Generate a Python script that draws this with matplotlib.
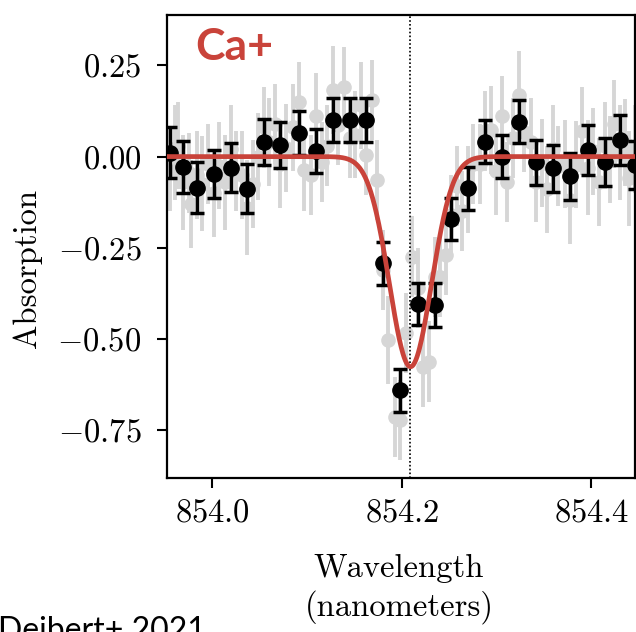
import numpy as np
import matplotlib
matplotlib.use("Agg")
import matplotlib.pyplot as plt

plt.rcParams["mathtext.fontset"] = "cm"
plt.rcParams["font.family"] = "serif"
plt.rcParams["font.serif"] = ["cmr10"]
plt.rcParams["axes.unicode_minus"] = True

# Binned Ca+ transmission residuals (nm, absorption, 1-sigma)
binned_wl = [853.9548, 853.9689, 853.9836, 854.0013, 854.0192, 854.0368, 854.0540,
             854.0717, 854.0910, 854.1097, 854.1272, 854.1448, 854.1624, 854.1799,
             854.1983, 854.2169, 854.2345, 854.2521, 854.2697, 854.2880, 854.3055,
             854.3232, 854.3418, 854.3594, 854.3777, 854.3963, 854.4139, 854.4298,
             854.4456]
binned_abs = [0.010, -0.028, -0.085, -0.048, -0.030, -0.088, 0.040, 0.031, 0.064,
              0.015, 0.100, 0.100, 0.100, -0.293, -0.641, -0.404, -0.406, -0.171,
              -0.087, 0.041, 0.000, 0.096, -0.016, -0.032, -0.054, 0.018, -0.016,
              0.046, -0.023]
binned_err = [0.070, 0.072, 0.069, 0.066, 0.068, 0.067, 0.064, 0.063, 0.060, 0.060,
              0.060, 0.060, 0.060, 0.058, 0.058, 0.057, 0.060, 0.057, 0.059, 0.059,
              0.059, 0.059, 0.062, 0.064, 0.065, 0.068, 0.066, 0.069, 0.066]

# Unbinned residuals
raw_wl = [853.9490, 853.9548, 853.9606,  853.9631, 853.9689, 853.9747,
          853.9778, 853.9836, 853.9894,  853.9955, 854.0013, 854.0071,
          854.0134, 854.0192, 854.0250,  854.0310, 854.0368, 854.0426,
          854.0482, 854.0540, 854.0598,  854.0659, 854.0717, 854.0775,
          854.0852, 854.0910, 854.0968,  854.1039, 854.1097, 854.1155,
          854.1214, 854.1272, 854.1330,  854.1390, 854.1448, 854.1506,
          854.1566, 854.1624, 854.1682,  854.1741, 854.1799, 854.1857,
          854.1925, 854.1983, 854.2041,  854.2111, 854.2169, 854.2227,
          854.2287, 854.2345, 854.2403,  854.2463, 854.2521, 854.2579,
          854.2639, 854.2697, 854.2755,  854.2822, 854.2880, 854.2938,
          854.2997, 854.3055, 854.3113,  854.3174, 854.3232, 854.3290,
          854.3360, 854.3418, 854.3476,  854.3536, 854.3594, 854.3652,
          854.3719, 854.3777, 854.3835,  854.3905, 854.3963, 854.4021,
          854.4081, 854.4139, 854.4197,  854.4240, 854.4298, 854.4356,
          854.4398, 854.4456, 854.4514]
raw_abs = [0.060, -0.040, 0.010,  0.030, -0.070, -0.045,
           -0.130, -0.050, -0.075,  -0.020, -0.100, -0.025,
           -0.070, 0.020, -0.040,  -0.050, -0.140, -0.075,
           0.000, 0.080, 0.040,  0.090, -0.020, 0.023,
           0.080, 0.150, -0.038,  -0.050, 0.110, -0.015,
           0.030, 0.183, 0.087,  0.190, 0.050, 0.060,
           0.140, 0.005, 0.155,  -0.064, -0.310, -0.503,
           -0.713, -0.722, -0.484,  -0.274, -0.360, -0.576,
           -0.562, -0.330, -0.330,  -0.270, -0.160, -0.080,
           -0.150, -0.090, -0.020,  -0.020, 0.070, 0.073,
           -0.040, 0.110, -0.070,  0.050, 0.170, 0.068,
           0.040, -0.070, -0.018,  -0.090, 0.020, -0.026,
           -0.020, -0.120, -0.022,  0.070, -0.030, 0.014,
           -0.070, 0.030, -0.008,  0.090, 0.010, 0.038,
           -0.060, 0.020, -0.030]
raw_err = [0.12, 0.11, 0.13,  0.12, 0.13, 0.11,  0.12, 0.12, 0.13,
           0.11, 0.12, 0.12,  0.13, 0.12, 0.11,  0.12, 0.13, 0.12,
           0.12, 0.11, 0.12,  0.11, 0.12, 0.12,  0.12, 0.11, 0.11,
           0.11, 0.12, 0.11,  0.11, 0.12, 0.11,  0.11, 0.11, 0.12,
           0.12, 0.11, 0.11,  0.11, 0.11, 0.12,  0.11, 0.11, 0.11,
           0.11, 0.11, 0.11,  0.11, 0.11, 0.11,  0.11, 0.11, 0.11,
           0.11, 0.12, 0.11,  0.11, 0.11, 0.12,  0.12, 0.11, 0.11,
           0.11, 0.12, 0.11,  0.12, 0.11, 0.12,  0.12, 0.12, 0.11,
           0.12, 0.12, 0.12,  0.12, 0.13, 0.12,  0.12, 0.12, 0.12,
           0.12, 0.13, 0.12,  0.13, 0.12, 0.12]

# Gaussian line model
line_center = 854.209
line_depth = 0.576
line_sigma = 0.0222

xticks = [854.0, 854.2, 854.4]
xtick_labels = [r"$854.0$", r"$854.2$", r"$854.4$"]
yticks = [0.25, 0.0, -0.25, -0.50, -0.75]
ytick_labels = [r"$0.25$", r"$0.00$", r"$-0.25$", r"$-0.50$", r"$-0.75$"]

W, H = 636, 632
fig = plt.figure(figsize=(W / 100, H / 100), dpi=100)
ax = fig.add_axes([167 / W, 1 - 478 / H, (635 - 167) / W, (478 - 15) / H])

grey = "#d6d6d6"
red = "#c9433a"

ax.errorbar(raw_wl, raw_abs, yerr=raw_err, fmt="o", color=grey, ms=9.5,
            elinewidth=2.8, capsize=0, zorder=1)
ax.axvline(line_center, color="black", ls=(0, (1, 1.3)), lw=1.2, zorder=2)
ax.errorbar(binned_wl, binned_abs, yerr=binned_err, fmt="o", color="black",
            ms=11, elinewidth=2.5, capsize=5, capthick=2.5, zorder=3)

xm = np.linspace(853.94, 854.46, 800)
model = -line_depth * np.exp(-0.5 * ((xm - line_center) / line_sigma) ** 2)
ax.plot(xm, model, color=red, lw=3.4, zorder=4)

ax.set_xlim(853.952, 854.446)
ax.set_ylim(-0.881, 0.388)
ax.set_xticks(xticks)
ax.set_xticklabels(xtick_labels)
ax.set_yticks(yticks)
ax.set_yticklabels(ytick_labels)
ax.tick_params(direction="out", length=7, width=1.5, labelsize=23.5)
ax.tick_params(axis="x", pad=8)
ax.tick_params(axis="y", pad=11.5)
for s in ax.spines.values():
    s.set_linewidth(1.6)

fig.text(27 / W, 1 - 268 / H, "Absorption", rotation=90, ha="center",
         va="center", fontsize=23.5)
fig.text(399 / W, 1 - 589 / H, "Wavelength\n(nanometers)", ha="center",
         va="center", fontsize=23.5, linespacing=1.27)

ax.text(0.06, 0.93, "Ca+", transform=ax.transAxes, color=red, fontsize=32,
        fontweight="bold", family="Lato", ha="left", va="center")
fig.text(-2 / W, -8 / H, "Deibert+ 2021", fontsize=23, family="Lato",
         ha="left", va="baseline")

fig.savefig("out.png", dpi=100)
